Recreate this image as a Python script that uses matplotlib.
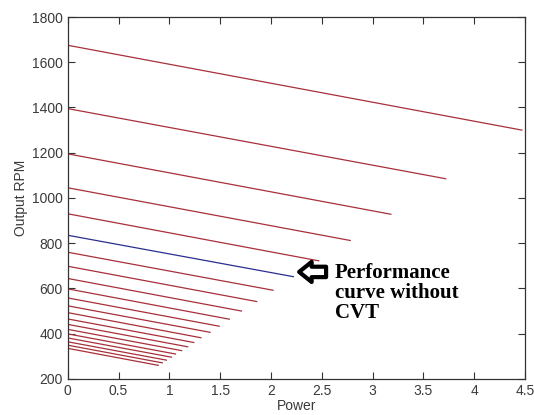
import matplotlib
matplotlib.use("Agg")
import matplotlib.pyplot as plt

# one curve per gear ratio: rpm at zero power, then power and rpm at the end
rpm_inicio = [1675, 1395, 1195, 1045, 930, 835, 760, 698, 644, 598, 558,
              523, 493, 465, 441, 419, 399, 381, 364, 349, 335]
potencia_fim = [4.47, 3.72, 3.18, 2.78, 2.47, 2.22, 2.02, 1.86, 1.71, 1.59, 1.49,
                1.40, 1.31, 1.24, 1.18, 1.12, 1.06, 1.02, 0.97, 0.93, 0.89]
rpm_fim = [1300, 1085, 928, 812, 722, 652, 592, 542, 500, 464, 433,
           406, 382, 361, 342, 325, 310, 296, 283, 271, 260]
curva_sem_cvt = 5  # the blue one

xticks = [0, 0.5, 1, 1.5, 2, 2.5, 3, 3.5, 4, 4.5]
xtick_labels = ["0", "0.5", "1", "1.5", "2", "2.5", "3", "3.5", "4", "4.5"]
yticks = [200, 400, 600, 800, 1000, 1200, 1400, 1600, 1800]

plt.rcParams["font.family"] = ["Liberation Sans", "DejaVu Sans"]

fig = plt.figure(figsize=(5.34, 4.15), dpi=100)
ax = fig.add_axes([0.127, 0.087, 0.856, 0.872])

for i in range(len(rpm_inicio)):
    cor = "#2b2f8c" if i == curva_sem_cvt else "#a8303a"
    ax.plot([0, potencia_fim[i]], [rpm_inicio[i], rpm_fim[i]], color=cor, lw=0.9)

ax.set_xlim(0, 4.5)
ax.set_ylim(200, 1800)
ax.set_xticks(xticks)
ax.set_xticklabels(xtick_labels)
ax.set_yticks(yticks)
ax.tick_params(direction="in", length=5, top=True, right=True,
               labelsize=10, labelcolor="#3a3a3a", color="#333333")
for lado in ax.spines.values():
    lado.set_color("#333333")
    lado.set_linewidth(0.9)

ax.set_xlabel("Power", fontsize=10, color="#3a3a3a", labelpad=1)
ax.set_ylabel("Output RPM", fontsize=10, color="#3a3a3a", labelpad=3)

ax.annotate("", xy=(2.25, 673), xytext=(2.57, 673),
            arrowprops=dict(arrowstyle="simple,head_length=0.9,head_width=1.45,tail_width=0.75",
                            fc="white", ec="black", lw=3))
ax.text(2.63, 712, "Performance\ncurve without\nCVT", fontsize=15, fontweight="bold",
        family=["Liberation Serif", "DejaVu Serif"], va="top", ha="left",
        linespacing=1.0)

fig.savefig("out.png", dpi=100)
plt.close(fig)
